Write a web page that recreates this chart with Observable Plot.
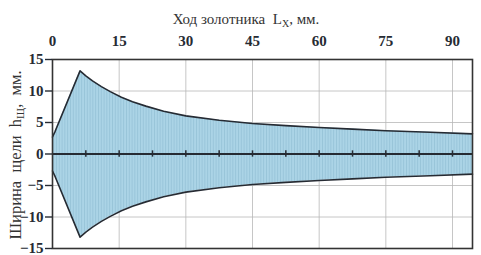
<!DOCTYPE html>
<html>
<head>
<meta charset="utf-8">
<script src="https://cdn.jsdelivr.net/npm/d3@7"></script>
<script src="https://cdn.jsdelivr.net/npm/@observablehq/plot@0.6"></script>
<style>
  html, body { margin: 0; padding: 0; background: #fff; }
  #chart svg { display: block; }
</style>
</head>
<body>
<div id="chart"></div>
<script>
// Stroke (Lx, mm) and half-width of the slot (h, mm)
const strokeX = [0, 0.6, 6.2, 7.5, 9, 11, 13, 15.5, 18, 21, 25, 30, 37.5, 45, 52.5, 60, 67.5, 75, 85, 94.5];
const halfWidth = [2.7, 3.6, 13.2, 12.4, 11.6, 10.7, 9.9, 9.0, 8.3, 7.6, 6.8, 6.05, 5.35, 4.85, 4.5, 4.2, 3.95, 3.7, 3.45, 3.2];
const xTicks = [0, 15, 30, 45, 60, 75, 90];
const xGrid = [15, 30, 45, 60, 75, 90];
const yTicks = [-15, -10, -5, 0, 5, 10, 15];
const zeroTicks = [7.5, 15, 22.5, 30, 37.5, 45, 52.5, 60, 67.5, 75, 82.5, 90];

const data = strokeX.map((x, i) => ({x, h: halfWidth[i]}));
const ink = "#262b33";
const font = "Liberation Serif, DejaVu Serif, serif";

const chart = Plot.plot({
  width: 481,
  height: 255,
  marginTop: 59,
  marginBottom: 7,
  marginLeft: 52,
  marginRight: 9,
  style: {fontFamily: font, background: "#fff", color: ink},
  x: {domain: [0, 94.5]},
  y: {domain: [-15, 15]},
  marks: [
    Plot.gridX(xGrid, {stroke: "#b8b8b8", strokeOpacity: 1, strokeWidth: 0.8}),
    Plot.gridY(yTicks, {stroke: "#b8b8b8", strokeOpacity: 1, strokeWidth: 0.8}),
    Plot.areaY(data, {x: "x", y1: d => -d.h, y2: d => d.h, fill: "url(#stripes)"}),
    Plot.line(data, {x: "x", y: "h", stroke: ink, strokeWidth: 1.6}),
    Plot.line(data, {x: "x", y: d => -d.h, stroke: ink, strokeWidth: 1.6}),
    Plot.ruleY([0], {stroke: ink, strokeWidth: 2}),
    Plot.ruleX(zeroTicks, {x: d => d, y1: -0.5, y2: 0.5, stroke: ink, strokeWidth: 1.5}),
    Plot.frame({stroke: "#333", strokeWidth: 1.6}),
    Plot.axisY(yTicks, {anchor: "left", tickSize: 7, tickPadding: 2, fontSize: 15, fontWeight: "bold", fontFamily: font, label: null, stroke: ink, strokeWidth: 1.4}),
    Plot.axisX(xTicks, {anchor: "top", tickSize: 0, tickPadding: 14, fontSize: 15, fontWeight: "bold", fontFamily: font, label: null})
  ]
});

document.getElementById("chart").appendChild(chart);

const svg = d3.select(chart);
svg.selectAll("text").attr("font-family", font);
const defs = svg.insert("defs", ":first-child");
const pat = defs.append("pattern")
  .attr("id", "stripes")
  .attr("patternUnits", "userSpaceOnUse")
  .attr("width", 2.8)
  .attr("height", 10);
pat.append("rect").attr("width", 2.8).attr("height", 10).attr("fill", "#abd4e6");
pat.append("rect").attr("x", 0).attr("width", 0.6).attr("height", 10).attr("fill", "#8dbcd2");

// Title (top axis label) with subscript
const title = svg.append("text")
  .attr("x", 246).attr("y", 24)
  .attr("text-anchor", "middle")
  .attr("font-family", font)
  .attr("font-size", 15)
  .attr("fill", "#333");
title.append("tspan").text("Ход золотника  L");
title.append("tspan").attr("font-size", 10).attr("dy", 3).text("X");
title.append("tspan").attr("dy", -3).text(", мм.");

// Y label with subscript
const ylab = svg.append("text")
  .attr("transform", "translate(21,155) rotate(-90)")
  .attr("text-anchor", "middle")
  .attr("font-family", font)
  .attr("font-size", 16.5)
  .attr("fill", "#333");
ylab.append("tspan").text("Ширина  щели  h");
ylab.append("tspan").attr("font-size", 11).attr("dy", 3).text("Щ");
ylab.append("tspan").attr("dy", -3).text(",  мм.");
</script>
</body>
</html>
